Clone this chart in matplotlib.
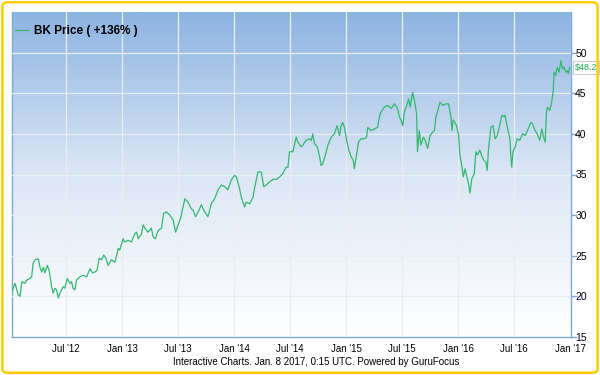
import numpy as np
import pandas as pd
import matplotlib
matplotlib.use('Agg')
import matplotlib.pyplot as plt
from matplotlib.patches import FancyBboxPatch
from matplotlib.colors import LinearSegmentedColormap

# BK price (days after 2012-01-08, close price)
start_date = '2012-01-08'
days = [0, 10, 20, 26, 32, 42, 48, 59, 64, 69, 75, 86, 91, 97, 102, 107, 115, 121, 129, 134,
        140, 145, 151, 156, 167, 172, 180, 189, 194, 199, 205, 210, 221, 232, 243, 254, 262, 270, 277, 284,
        292, 299, 306, 313, 324, 335, 340, 346, 351, 362, 367, 378, 389, 400, 406, 411, 422, 427, 433, 443,
        454, 460, 467, 476, 487, 494, 503, 514, 525, 533, 541, 549, 557, 563, 573, 584, 590, 598, 609, 617,
        622, 628, 638, 644, 649, 660, 671, 682, 693, 703, 714, 725, 731, 741, 747, 758, 763, 774, 785, 790,
        801, 812, 820, 828, 839, 850, 861, 872, 882, 893, 899, 904, 915, 926, 931, 942, 947, 958, 969, 975,
        980, 985, 991, 996, 1002, 1007, 1012, 1021, 1029, 1040, 1050, 1059, 1067, 1072, 1077, 1083, 1090, 1097, 1105, 1112,
        1115, 1123, 1129, 1137, 1148, 1155, 1159, 1170, 1180, 1191, 1197, 1202, 1213, 1224, 1235, 1246, 1256, 1262, 1267, 1273,
        1278, 1286, 1292, 1297, 1305, 1311, 1318, 1321, 1327, 1332, 1340, 1346, 1354, 1362, 1370, 1376, 1381, 1386, 1394, 1403,
        1414, 1422, 1430, 1433, 1437, 1444, 1448, 1455, 1459, 1466, 1470, 1476, 1482, 1487, 1492, 1498, 1506, 1511, 1516, 1524,
        1531, 1538, 1544, 1548, 1552, 1560, 1567, 1574, 1581, 1587, 1596, 1603, 1606, 1611, 1617, 1622, 1625, 1628, 1632, 1639,
        1646, 1654, 1663, 1672, 1679, 1690, 1695, 1704, 1711, 1719, 1726, 1733, 1737, 1741, 1744, 1752, 1758, 1763, 1766, 1771,
        1776, 1782, 1788, 1793, 1798, 1804, 1809, 1812, 1817]
price = [20.6, 21.6, 20.2, 20.0, 21.8, 21.6, 22.0, 22.2, 22.4, 24.1, 24.5, 24.6, 23.6, 23.0, 23.6, 22.9, 23.8, 23.2, 21.2, 20.4,
         21.0, 20.8, 19.8, 20.4, 21.2, 21.0, 22.2, 21.6, 21.8, 21.0, 20.8, 22.0, 22.4, 22.6, 22.4, 23.4, 22.9, 23.0, 23.2, 24.7,
         24.5, 25.1, 24.7, 23.8, 24.5, 24.2, 24.9, 25.9, 25.7, 27.1, 26.7, 26.9, 26.7, 27.7, 27.9, 27.1, 27.7, 28.8, 28.4, 27.9,
         28.4, 27.3, 27.1, 28.1, 28.4, 30.2, 30.4, 30.0, 29.4, 27.9, 28.8, 29.6, 31.0, 32.0, 31.6, 30.8, 30.6, 29.8, 30.6, 31.3,
         30.8, 30.4, 29.8, 30.6, 31.4, 32.0, 33.1, 33.7, 33.5, 33.1, 34.3, 34.9, 34.7, 33.3, 32.2, 31.0, 31.6, 31.4, 32.2, 33.3,
         35.3, 35.3, 33.5, 33.7, 34.1, 34.4, 34.4, 34.7, 35.1, 35.9, 35.9, 37.8, 37.8, 39.6, 39.0, 38.4, 38.6, 39.2, 39.4, 39.2,
         40.0, 38.8, 38.6, 38.2, 37.2, 36.1, 36.3, 37.4, 38.6, 39.6, 40.0, 41.0, 39.8, 41.0, 41.4, 40.8, 39.2, 38.0, 37.2, 36.7,
         35.7, 37.6, 39.0, 39.4, 39.4, 39.6, 40.8, 40.4, 40.6, 40.8, 42.1, 42.7, 43.3, 43.5, 43.1, 43.7, 43.1, 42.1, 41.7, 41.0,
         42.7, 43.5, 44.3, 43.3, 45.1, 44.1, 42.5, 37.8, 40.4, 38.6, 39.6, 39.2, 38.2, 39.8, 40.2, 40.4, 42.1, 42.7, 43.9, 43.5,
         43.7, 43.7, 42.1, 40.4, 41.7, 41.3, 41.0, 39.8, 37.4, 35.9, 34.7, 35.7, 34.7, 33.9, 32.7, 34.5, 35.1, 37.8, 37.4, 38.0,
         37.2, 36.7, 36.5, 35.5, 38.0, 40.8, 41.0, 39.4, 39.8, 40.8, 42.3, 42.1, 42.3, 41.3, 40.2, 39.4, 37.2, 35.9, 37.8, 38.4,
         39.4, 39.2, 40.0, 39.8, 40.4, 41.4, 41.3, 40.4, 40.0, 39.2, 40.6, 39.4, 39.0, 42.7, 43.3, 42.9, 43.9, 45.3, 47.6, 47.2,
         48.2, 47.6, 49.0, 48.0, 48.2, 47.6, 47.8, 47.4, 48.2]

tick_dates = ['2012-07-01', '2013-01-01', '2013-07-01', '2014-01-01', '2014-07-01',
              '2015-01-01', '2015-07-01', '2016-01-01', '2016-07-01', '2017-01-01']
tick_labels = ["Jul '12", "Jan '13", "Jul '13", "Jan '14", "Jul '14",
               "Jan '15", "Jul '15", "Jan '16", "Jul '16", "Jan '17"]
y_ticks = [15, 20, 25, 30, 35, 40, 45, 50]
series_name = 'BK Price ( +136% )'
last_label = r'\$48.2'
footer = 'Interactive Charts. Jan. 8 2017, 0:15 UTC. Powered by GuruFocus'

plt.rcParams['font.family'] = ['Liberation Sans', 'DejaVu Sans']

dates = pd.Timestamp(start_date) + pd.to_timedelta(days, unit='D')
line_color = '#33b86e'
axis_color = '#7ea8da'

fig = plt.figure(figsize=(6, 3.75), dpi=100)
ax = fig.add_axes([12 / 600, 38 / 375, 559 / 600, 325 / 375])

# blue to white gradient background
cmap = LinearSegmentedColormap.from_list('bg', ['#ffffff', '#dce7f5', '#8db4e2'])
grad = np.linspace(0, 1, 256).reshape(-1, 1)
ax.imshow(grad, aspect='auto', cmap=cmap, origin='lower',
          extent=[0, 1, 0, 1], transform=ax.transAxes, zorder=0)

ax.plot(dates, price, color=line_color, lw=0.9, zorder=3, label=series_name)

ax.set_xlim(pd.Timestamp(start_date), pd.Timestamp('2017-01-02'))
ax.set_ylim(15, 55)
ax.set_xticks(pd.to_datetime(tick_dates))
ax.set_xticklabels(tick_labels)
ax.set_yticks(y_ticks)
ax.yaxis.tick_right()
ax.grid(True, color='#e9eef5', lw=0.9, zorder=1)
ax.set_axisbelow(False)

ax.tick_params(axis='x', length=0, pad=5, labelsize=7, colors='black')
ax.tick_params(axis='y', length=4, width=1, color=axis_color, pad=-1, labelsize=7.5, labelcolor='black')

ax.spines['top'].set_visible(False)
for s in ['left', 'bottom', 'right']:
    ax.spines[s].set_color(axis_color)
    ax.spines[s].set_linewidth(1)

leg = ax.legend(loc='upper left', bbox_to_anchor=(-0.003, 0.975), frameon=False,
                handlelength=1.1, handletextpad=0.5, borderaxespad=0,
                prop={'weight': 'bold', 'size': 8.5})

ax.annotate(last_label, xy=(1.0, price[-1]), xycoords=('axes fraction', 'data'),
            xytext=(3, 0), textcoords='offset points', ha='left', va='center',
            fontsize=6.5, color='#22aa55',
            bbox=dict(boxstyle='square,pad=0.2', fc='white', ec='#cccccc', lw=0.8),
            annotation_clip=False)

fig.text(316 / 600, 13 / 375, footer, ha='center', va='center', fontsize=7)

border = FancyBboxPatch((0.004, 0.006), 0.992, 0.988, boxstyle='round,pad=0,rounding_size=0.01',
                        transform=fig.transFigure, fc='none', ec='#ffcc00', lw=1.8)
fig.patches.append(border)

fig.savefig('out.png', dpi=100)
